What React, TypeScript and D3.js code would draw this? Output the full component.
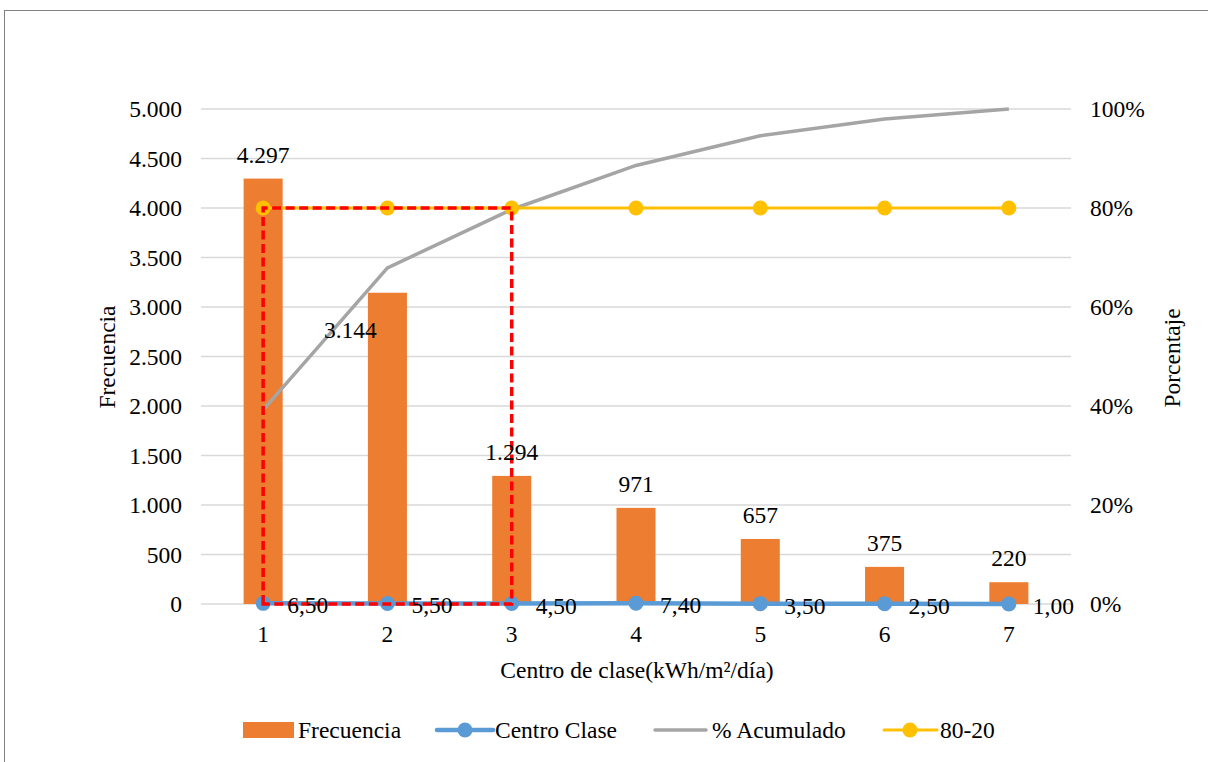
import React from "react";
import * as d3 from "d3";

// Pareto data: frequency per class, class centre, cumulative share and the 80-20 reference
const categories = ["1", "2", "3", "4", "5", "6", "7"];
const frecuencia = [4297, 3144, 1294, 971, 657, 375, 220];
const centroClase = [6.5, 5.5, 4.5, 7.4, 3.5, 2.5, 1.0];
const acumulado = [0.392, 0.679, 0.797, 0.886, 0.946, 0.98, 1.0];
const ochentaVeinte = [0.8, 0.8, 0.8, 0.8, 0.8, 0.8, 0.8];
const leftTicks = [0, 500, 1000, 1500, 2000, 2500, 3000, 3500, 4000, 4500, 5000];
const rightTicks = [0, 0.2, 0.4, 0.6, 0.8, 1.0];
// Pareto cut: classes 1..3 cover ~80%
const corteInicio = "1";
const corteFin = "3";
const corteValor = 0.8;

const W = 1208;
const H = 762;
const plot = { left: 201, right: 1071, top: 109, bottom: 604 };
const FONT = "'Liberation Serif', 'Times New Roman', serif";
const FS = 23.5;

const ORANGE = "#ED7D31";
const BLUE = "#5B9BD5";
const GRAY = "#A5A5A5";
const GOLD = "#FFC000";
const GRID = "#D9D9D9";

const fmtMiles = (v: number) => d3.format(",")(v).replace(/,/g, ".");
const fmtDec = (v: number) => d3.format(".2f")(v).replace(".", ",");
const fmtPct = d3.format(".0%");

export default function App() {
  const x = d3
    .scaleBand<string>()
    .domain(categories)
    .range([plot.left, plot.right])
    .paddingInner(0.686)
    .paddingOuter(0.343);
  const cx = (c: string) => (x(c) as number) + x.bandwidth() / 2;
  const y = d3.scaleLinear().domain([0, 5000]).range([plot.bottom, plot.top]);
  const y2 = d3.scaleLinear().domain([0, 1]).range([plot.bottom, plot.top]);

  const lineLeft = d3
    .line<number>()
    .x((_, i) => cx(categories[i]))
    .y((d) => y(d));
  const lineRight = d3
    .line<number>()
    .x((_, i) => cx(categories[i]))
    .y((d) => y2(d));

  // label nudges for the frequency values (second one sits beside its bar)
  const freqLabelShift = (i: number) => (i === 1 ? { dx: -37, dy: 61 } : { dx: 0, dy: 0 });

  const x1 = cx(corteInicio);
  const x3 = cx(corteFin);
  const yc = y2(corteValor);
  const y0 = y(0);
  const cutPath = `M${x1},${y0} L${x1},${yc} L${x3},${yc} L${x3},${y0} Z`;

  const legendY = 730;

  return (
    <svg
      width={W}
      height={H}
      style={{ position: "absolute", left: 0, top: 0, background: "#fff" }}
      fontFamily={FONT}
      fontSize={FS}
    >
      <rect x={0} y={0} width={W} height={H} fill="#fff" />
      <rect x={4.5} y={10.5} width={W + 20} height={H + 20} fill="none" stroke="#808080" strokeWidth={1} />

      {/* gridlines */}
      {leftTicks.map((t) => (
        <line key={t} x1={plot.left} x2={plot.right} y1={y(t)} y2={y(t)} stroke={GRID} strokeWidth={1.5} />
      ))}

      {/* left axis labels */}
      {leftTicks.map((t) => (
        <text key={t} x={182} y={y(t)} textAnchor="end" dominantBaseline="central" fill="#000">
          {fmtMiles(t)}
        </text>
      ))}
      {/* right axis labels */}
      {rightTicks.map((t) => (
        <text key={t} x={1090} y={y2(t)} textAnchor="start" dominantBaseline="central" fill="#000">
          {fmtPct(t)}
        </text>
      ))}
      {/* category labels */}
      {categories.map((c) => (
        <text key={c} x={cx(c)} y={634} textAnchor="middle" dominantBaseline="central" fill="#000">
          {c}
        </text>
      ))}

      {/* axis titles */}
      <text x={637} y={670} textAnchor="middle" dominantBaseline="central">
        Centro de clase(kWh/m²/día)
      </text>
      <text transform={`translate(107,357) rotate(-90)`} textAnchor="middle" dominantBaseline="central">
        Frecuencia
      </text>
      <text transform={`translate(1172,358) rotate(-90)`} textAnchor="middle" dominantBaseline="central">
        Porcentaje
      </text>

      {/* bars */}
      {frecuencia.map((v, i) => (
        <rect
          key={i}
          x={x(categories[i])}
          y={y(v)}
          width={x.bandwidth()}
          height={y(0) - y(v)}
          fill={ORANGE}
        />
      ))}

      {/* cumulative percentage */}
      <path d={lineRight(acumulado) || ""} fill="none" stroke={GRAY} strokeWidth={3.5} />

      {/* 80-20 reference */}
      <path d={lineRight(ochentaVeinte) || ""} fill="none" stroke={GOLD} strokeWidth={3} />
      {ochentaVeinte.map((v, i) => (
        <circle key={i} cx={cx(categories[i])} cy={y2(v)} r={7.5} fill={GOLD} />
      ))}

      {/* class centre (on the frequency scale) */}
      <path d={lineLeft(centroClase) || ""} fill="none" stroke={BLUE} strokeWidth={4.5} />
      {centroClase.map((v, i) => (
        <circle key={i} cx={cx(categories[i])} cy={y(v)} r={7.5} fill={BLUE} />
      ))}

      {/* Pareto cut box */}
      <path d={cutPath} fill="none" stroke="#FF0000" strokeWidth={3.5} strokeDasharray="9,4.5" />

      {/* frequency labels */}
      {frecuencia.map((v, i) => {
        const s = freqLabelShift(i);
        return (
          <text
            key={i}
            x={cx(categories[i]) + s.dx}
            y={y(v) - 24 + s.dy}
            textAnchor="middle"
            dominantBaseline="central"
          >
            {fmtMiles(v)}
          </text>
        );
      })}

      {/* class centre labels */}
      {centroClase.map((v, i) => (
        <text key={i} x={cx(categories[i]) + 24} y={y(v) + 2} textAnchor="start" dominantBaseline="central">
          {fmtDec(v)}
        </text>
      ))}

      {/* legend */}
      <g>
        <rect x={243} y={legendY - 8} width={51} height={16} fill={ORANGE} />
        <text x={298} y={legendY} dominantBaseline="central">Frecuencia</text>

        <line x1={437} x2={493} y1={legendY} y2={legendY} stroke={BLUE} strokeWidth={4.5} strokeLinecap="round" />
        <circle cx={465} cy={legendY} r={7.5} fill={BLUE} />
        <text x={495} y={legendY} dominantBaseline="central">Centro Clase</text>

        <line x1={655} x2={706} y1={legendY} y2={legendY} stroke={GRAY} strokeWidth={3.5} strokeLinecap="round" />
        <text x={712} y={legendY} dominantBaseline="central">% Acumulado</text>

        <line x1={884} x2={937} y1={legendY} y2={legendY} stroke={GOLD} strokeWidth={3} strokeLinecap="round" />
        <circle cx={910} cy={legendY} r={7.5} fill={GOLD} />
        <text x={940} y={legendY} dominantBaseline="central">80-20</text>
      </g>
    </svg>
  );
}
